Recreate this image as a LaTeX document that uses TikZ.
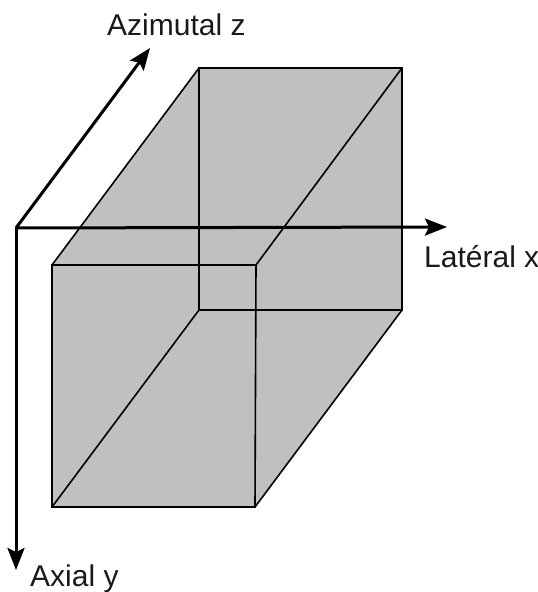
\documentclass[tikz,border=0pt]{standalone}
\usepackage{fontspec}
\setmainfont{Liberation Sans}
\usetikzlibrary{arrows.meta}
\definecolor{boxgray}{RGB}{192,192,192}
\tikzset{
  x=1pt,y=-1pt,
  edge/.style={draw=black,line width=1.6pt,line join=miter},
  face/.style={fill=boxgray,draw=none},
  axis/.style={draw=black,line width=3pt,-{Stealth[length=22pt,width=17pt,inset=4pt]}},
  lab/.style={font=\fontsize{30}{34}\selectfont,inner sep=0pt,anchor=base west,text=black!90}
}
\begin{document}
\begin{tikzpicture}
\useasboundingbox (0,0) rectangle (538,592);
\coordinate (A) at (52,265);
\coordinate (B) at (256,265);
\coordinate (C) at (255,507);
\coordinate (D) at (52,507);
\coordinate (E) at (199,68);
\coordinate (F) at (402,68);
\coordinate (G) at (402,310);
\coordinate (H) at (199,310);
\coordinate (O) at (16,228);
\coordinate (Xe) at (447,227);
\coordinate (Ye) at (16,570);
\coordinate (Ze) at (150,48);
\path[face] (A) -- (E) -- (F) -- (G) -- (C) -- (D) -- cycle;
\draw[edge] (A) -- (B) -- (C) -- (D) -- cycle;
\draw[edge] (E) -- (F) -- (G) -- (H) -- cycle;
\draw[edge] (A) -- (E);
\draw[edge] (B) -- (F);
\draw[edge] (C) -- (G);
\draw[edge] (D) -- (H);
\draw[axis] (O) -- (Xe);
\draw[axis] (O) -- (Ye);
\draw[axis] (O) -- (Ze);
\node[lab] (zl) at (107,35) {Azimutal z};
\node[lab] (xl) at (424,267) {Latéral x};
\node[lab] (yl) at (30,586) {Axial y};
\end{tikzpicture}
\end{document}
